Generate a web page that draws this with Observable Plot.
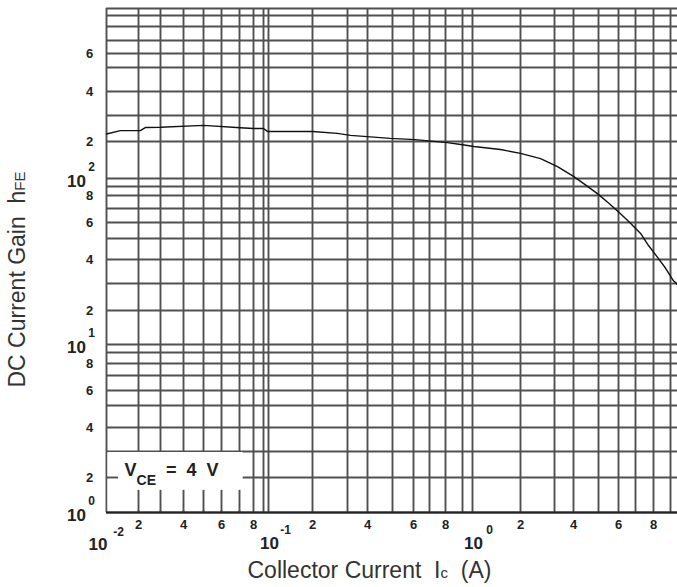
<!DOCTYPE html>
<html><head><meta charset="utf-8">
<script src="https://cdn.jsdelivr.net/npm/d3@7"></script>
<script src="https://cdn.jsdelivr.net/npm/@observablehq/plot@0.6"></script>
<style>
body{margin:0;background:#fff;}
#chart svg{overflow:hidden;font-family:"Liberation Sans",Arial,sans-serif;white-space:pre;}
</style></head><body><div id="chart"></div>
<script>
// grid values (log paper, 1..9 per decade)
const xGrid = [0.01,0.02,0.03,0.04,0.05,0.06,0.07,0.08,0.09,0.1,0.2,0.3,0.4,0.5,0.6,0.7,0.8,0.9,1,2,3,4,5,6,7,8,9,10];
const yGrid = [1,2,3,4,5,6,7,8,9,10,20,30,40,50,60,70,80,90,100,200,300,400,500,600,700,800,900,1000];

// curve: collector current (A) vs DC current gain hFE, VCE = 4 V
const icA = [0.01,0.0135,0.0207,0.0228,0.03,0.05,0.0705,0.08,0.09,0.0978,0.2,0.267,0.313,0.49,0.61,0.81,0.89,1.02,1.5,2,2.54,3.14,4,4.45,4.95,5.48,6.11,6.69,7.27,7.71,8.22,8.7,9.26,9.62];
const hfe = [225,237,237,249,250,257,248,245,245,234,234,227,220,210,206,196,189,182,172,160,145,125,104,92,82,74,66,59.5,53,46.4,41,36,31,29.6];

// tick labels
const xTickValues = [0.02,0.04,0.06,0.08,0.2,0.4,0.6,0.8,2,4,6,8];
const xTickLabels = ["2","4","6","8","2","4","6","8","2","4","6","8"];
const yTickValues = [2,4,6,8,20,40,60,80,200,400,600];
const yTickLabels = ["2","4","6","8","2","4","6","8","2","4","6"];
const xDecades = [0.01,0.1,1];
const xExponents = ["-2","-1","0"];
const yDecades = [1,10,100];
const yExponents = ["0","1","2"];

// condition box (data units)
const boxX = [0.01,0.0725];
const boxY = [1,3];
const boxTicks = [0.02,0.03,0.04,0.05,0.06,0.07];

const xTitle = "Collector Current  Ic  (A)";
const yTitle = "DC Current Gain  hFE";
const condition = "VCE = 4 V";

const curve = icA.map((x,i)=>({x, y: hfe[i]}));
const gridColor = "#505050";
const lab = {fontWeight: "bold", fill: "#222", textAnchor: "middle", lineAnchor: "middle"};

const plot = Plot.plot({
  width: 677, height: 587,
  marginLeft: 106, marginTop: 8, marginBottom: 75, marginRight: 0,
  style: {background: "#fff", fontFamily: "Liberation Sans, Arial, sans-serif"},
  x: {type: "log", axis: null, domain: xGrid,
      range: [106,138,160,183,203,221,239,253,263,268,312,347,367,392,413,429,445,462,472,520,554,573,598,618,635,653,670,681]},
  y: {type: "log", axis: null, domain: yGrid,
      range: [512,477,451,427,405,390,375,363,352,344,310,283,259,238,222,208,195,186,178,141,115,91,67,53,40,26,15,8]},
  marks: [
    Plot.ruleX(xGrid, {x: d=>d, y1: 1, y2: 1000, stroke: gridColor, strokeWidth: 1.9}),
    Plot.ruleY(yGrid, {y: d=>d, x1: 0.01, x2: 10, stroke: gridColor, strokeWidth: 1.9}),
    Plot.rect([0], {x1: boxX[0], x2: boxX[1], y1: boxY[0], y2: boxY[1], fill: "white", insetLeft: 1.5, insetBottom: 1.5, insetTop: 1}),
    Plot.ruleY([2], {y: d=>d, x1: 0.01, x2: 0.013, stroke: gridColor, strokeWidth: 1.9}),
    Plot.ruleX(boxTicks, {x: d=>d, y1: 1, y2: 1.55, stroke: gridColor, strokeWidth: 1.9}),
    Plot.ruleY([1], {y: d=>d, x1: 0.01, x2: 10, stroke: "#222", strokeWidth: 2.2}),
    Plot.line(curve, {x: "x", y: "y", stroke: "#111", strokeWidth: 1.4}),
    // y tick labels
    Plot.text(yTickValues, {...lab, y: d=>d, text: (d,i)=>yTickLabels[i], frameAnchor: "left", dx: -17, fontSize: 13}),
    Plot.text(yDecades, {...lab, y: d=>d, text: ()=>"10", frameAnchor: "left", dx: -30, dy: 3, fontSize: 17}),
    Plot.text(yDecades, {...lab, y: d=>d, text: (d,i)=>yExponents[i], frameAnchor: "left", dx: -15, dy: -11, fontSize: 12}),
    // x tick labels
    Plot.text(xTickValues, {...lab, x: d=>d, text: (d,i)=>xTickLabels[i], frameAnchor: "bottom", dy: 12, fontSize: 13}),
    Plot.text(xDecades.slice(1), {...lab, x: d=>d, text: ()=>"10", frameAnchor: "bottom", dx: 1, dy: 31, fontSize: 17}),
    Plot.text(xDecades.slice(0,1), {...lab, x: d=>d, text: ()=>"10", frameAnchor: "bottom", textAnchor: "end", dx: 1, dy: 32, fontSize: 17}),
    Plot.text(xDecades.slice(1), {...lab, x: d=>d, text: (d,i)=>xExponents[i+1], frameAnchor: "bottom", dx: 17, dy: 18, fontSize: 12}),
    Plot.text(xDecades.slice(0,1), {...lab, x: d=>d, text: ()=>xExponents[0], frameAnchor: "bottom", dx: 12, dy: 20, fontSize: 12}),
    // condition label
    Plot.text([condition], {...lab, frameAnchor: "bottom-left", textAnchor: "start", dx: 18, dy: -42, fontSize: 18}),
    // axis titles
    Plot.text([xTitle], {frameAnchor: "bottom-left", textAnchor: "start", lineAnchor: "middle", dx: 141, dy: 58, fontSize: 23, fill: "#333"}),
    Plot.text([yTitle], {frameAnchor: "bottom-left", textAnchor: "start", lineAnchor: "middle", rotate: -90, dx: -89, dy: -125, fontSize: 23, fill: "#333"})
  ]
});

const s = d3.select(plot);
function rebuild(str, parts) {
  s.selectAll("text").filter(function(){ return this.textContent === str; }).each(function(){
    const t = d3.select(this).text(null);
    for (const p of parts) {
      const sp = t.append("tspan").text(p.t);
      if (p.fs) sp.attr("font-size", p.fs);
      if (p.dy) sp.attr("dy", p.dy);
    }
  });
}
rebuild(xTitle, [{t: "Collector Current  I"}, {t: "c", fs: 15}, {t: "  (A)"}]);
rebuild(yTitle, [{t: "DC Current Gain  h"}, {t: "FE", fs: 15}]);
rebuild(condition, [{t: "V"}, {t: "CE", fs: 14, dy: 9}, {t: "  =  4  V", dy: -9}]);
document.getElementById("chart").appendChild(plot);
</script></body></html>
